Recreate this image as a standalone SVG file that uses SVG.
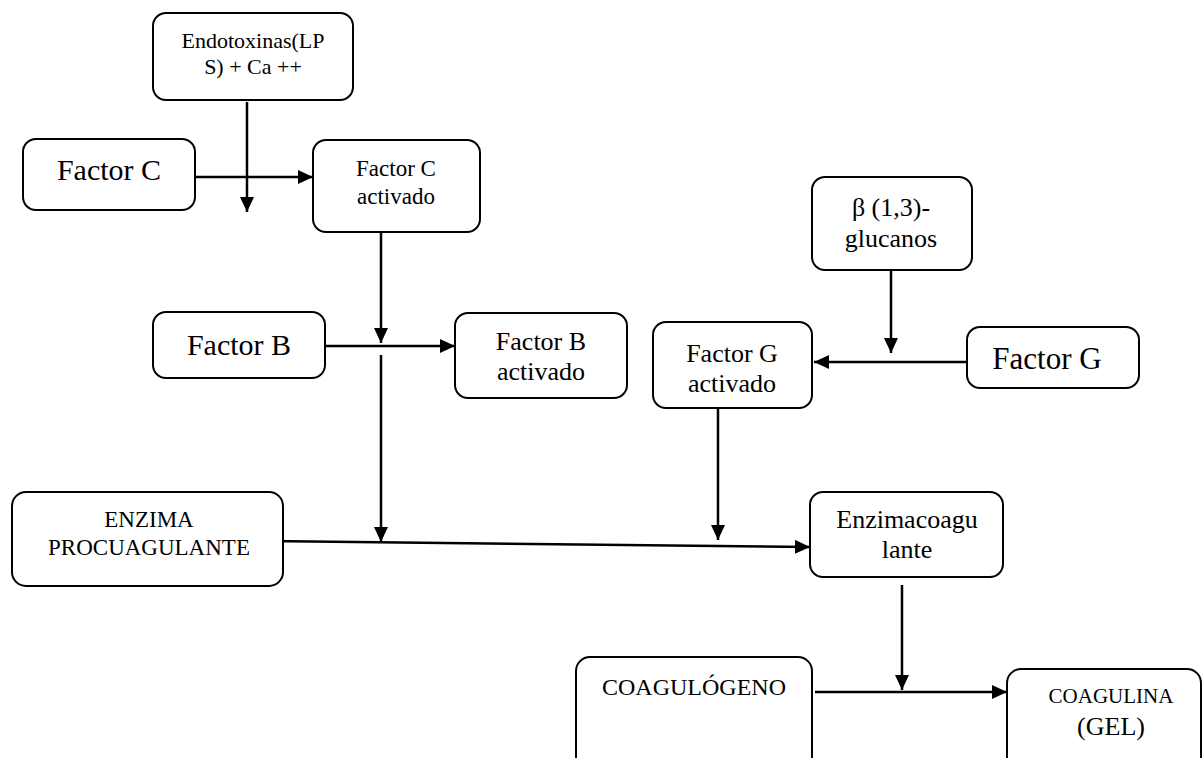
<svg xmlns="http://www.w3.org/2000/svg" width="1202" height="758" viewBox="0 0 1202 758">
  <style>
    .box { fill: #ffffff; stroke: #000000; stroke-width: 2; }
    .lbl { fill: #000000; text-anchor: middle; }
    .edge { stroke: #000000; stroke-width: 2.5; fill: none; }
    .arr { marker-end: url(#head); }
  </style>
  <defs>
    <marker id="head" markerUnits="userSpaceOnUse" markerWidth="16" markerHeight="14" refX="15" refY="7" orient="auto">
      <path d="M0,0 L15,7 L0,14 Z" fill="#000000"/>
    </marker>
  </defs>
  <rect width="1202" height="758" fill="#ffffff"/>

  <!-- Connectors -->
  <g id="connectors">
    <line class="edge arr" x1="247" y1="102" x2="247" y2="212"/>
    <line class="edge arr" x1="195" y1="177" x2="313" y2="177"/>
    <line class="edge arr" x1="381" y1="233" x2="381" y2="343"/>
    <line class="edge arr" x1="325" y1="346" x2="455" y2="346"/>
    <line class="edge arr" x1="381" y1="355" x2="381" y2="542"/>
    <line class="edge arr" x1="891" y1="271" x2="891" y2="353"/>
    <line class="edge arr" x1="970" y1="362" x2="814" y2="362"/>
    <line class="edge arr" x1="718" y1="409" x2="718" y2="540"/>
    <line class="edge arr" x1="267" y1="541" x2="810" y2="547"/>
    <line class="edge arr" x1="902" y1="585" x2="902" y2="690"/>
    <line class="edge arr" x1="815" y1="692" x2="1007" y2="692"/>
  </g>

  <!-- Nodes -->
  <g id="nodes" font-family="'Liberation Serif', 'Times New Roman', 'DejaVu Serif', serif">
    <g id="endotoxinas">
      <rect class="box" x="153" y="13" width="200" height="87" rx="13"/>
      <text class="lbl" font-size="22" x="253" y="48">Endotoxinas(LP</text>
      <text class="lbl" font-size="22" x="253" y="74">S) + Ca ++</text>
    </g>
    <g id="factor-c">
      <rect class="box" x="23" y="139" width="172" height="71" rx="13"/>
      <text class="lbl" font-size="30" x="109" y="180">Factor C</text>
    </g>
    <g id="factor-c-activado">
      <rect class="box" x="313" y="140" width="167" height="92" rx="13"/>
      <text class="lbl" font-size="23" x="396" y="176">Factor C</text>
      <text class="lbl" font-size="23" x="396" y="204">activado</text>
    </g>
    <g id="factor-b">
      <rect class="box" x="153" y="312" width="172" height="66" rx="13"/>
      <text class="lbl" font-size="30" x="239" y="355">Factor B</text>
    </g>
    <g id="factor-b-activado">
      <rect class="box" x="455" y="313" width="172" height="85" rx="13"/>
      <text class="lbl" font-size="26" x="541" y="350">Factor B</text>
      <text class="lbl" font-size="26" x="541" y="380">activado</text>
    </g>
    <g id="glucanos">
      <rect class="box" x="812" y="177" width="160" height="93" rx="13"/>
      <text class="lbl" font-size="26" x="891" y="216">β (1,3)-</text>
      <text class="lbl" font-size="26" x="891" y="247">glucanos</text>
    </g>
    <g id="factor-g-activado">
      <rect class="box" x="653" y="322" width="159" height="86" rx="13"/>
      <text class="lbl" font-size="26" x="732" y="362">Factor G</text>
      <text class="lbl" font-size="26" x="732" y="392">activado</text>
    </g>
    <g id="factor-g">
      <rect class="box" x="967" y="327" width="172" height="61" rx="13"/>
      <text class="lbl" font-size="31" x="1047" y="369">Factor G</text>
    </g>
    <g id="enzima-procoagulante">
      <rect class="box" x="12" y="492" width="271" height="94" rx="14"/>
      <text class="lbl" font-size="23" x="149" y="527">ENZIMA</text>
      <text class="lbl" font-size="23" x="149" y="555">PROCUAGULANTE</text>
    </g>
    <g id="enzima-coagulante">
      <rect class="box" x="810" y="492" width="193" height="85" rx="13"/>
      <text class="lbl" font-size="26" x="907" y="528">Enzimacoagu</text>
      <text class="lbl" font-size="26" x="907" y="558">lante</text>
    </g>
    <g id="coagulogeno">
      <rect class="box" x="576" y="657" width="236" height="120" rx="14"/>
      <text class="lbl" font-size="24" x="694" y="695">COAGULÓGENO</text>
    </g>
    <g id="coagulina">
      <rect class="box" x="1007" y="669" width="194" height="120" rx="14"/>
      <text class="lbl" font-size="21" x="1111" y="703">COAGULINA</text>
      <text class="lbl" font-size="26" x="1111" y="735">(GEL)</text>
    </g>
  </g>
</svg>
